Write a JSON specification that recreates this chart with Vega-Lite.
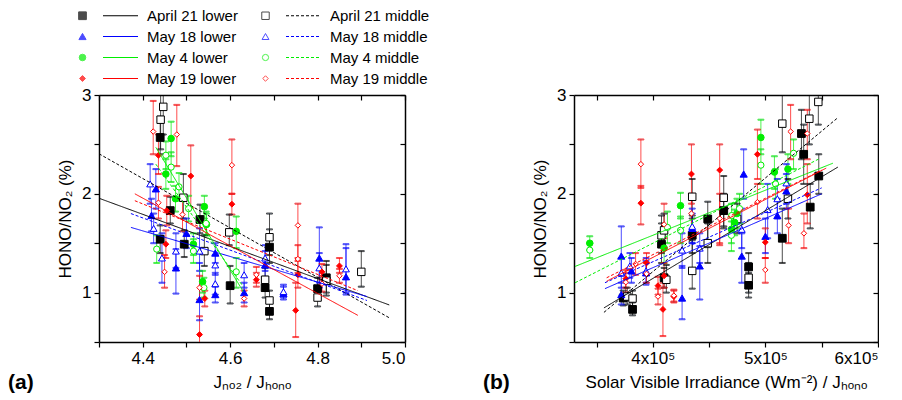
{
  "$schema": "https://vega.github.io/schema/vega-lite/v6.json",
  "padding": {"left": 8, "top": 8, "right": 0, "bottom": 0},
  "background": "white",
  "bounds": "flush",
  "spacing": 169,
  "resolve": {"scale": {"shape": "independent", "fill": "independent", "stroke": "independent", "size": "independent", "color": "independent", "strokeDash": "independent"}, "legend": {"shape": "independent", "fill": "independent", "stroke": "independent", "size": "independent", "color": "independent", "strokeDash": "independent"}},
  "datasets": {
    "pa": [
      {"series":"April 21 lower","x":4.440,"y":2.57,"lo":2.40,"hi":2.78},
      {"series":"April 21 lower","x":4.463,"y":1.83,"lo":1.70,"hi":1.97},
      {"series":"April 21 lower","x":4.440,"y":1.54,"lo":1.40,"hi":1.68},
      {"series":"April 21 lower","x":4.495,"y":1.49,"lo":1.36,"hi":1.63},
      {"series":"April 21 lower","x":4.531,"y":1.74,"lo":1.60,"hi":1.89},
      {"series":"April 21 lower","x":4.600,"y":1.07,"lo":0.89,"hi":1.27},
      {"series":"April 21 lower","x":4.690,"y":1.46,"lo":1.30,"hi":1.64},
      {"series":"April 21 lower","x":4.680,"y":1.05,"lo":0.95,"hi":1.16},
      {"series":"April 21 lower","x":4.690,"y":0.81,"lo":0.73,"hi":0.90},
      {"series":"April 21 lower","x":4.800,"y":1.04,"lo":0.93,"hi":1.15},
      {"series":"April 21 lower","x":4.820,"y":1.15,"lo":1.00,"hi":1.32},
      {"series":"April 21 middle","x":4.441,"y":2.75,"lo":2.45,"hi":3.05},
      {"series":"April 21 middle","x":4.447,"y":2.88,"lo":2.60,"hi":3.10},
      {"series":"April 21 middle","x":4.493,"y":1.96,"lo":1.75,"hi":2.20},
      {"series":"April 21 middle","x":4.541,"y":1.42,"lo":1.27,"hi":1.58},
      {"series":"April 21 middle","x":4.598,"y":1.61,"lo":1.48,"hi":1.79},
      {"series":"April 21 middle","x":4.690,"y":1.56,"lo":1.38,"hi":1.80},
      {"series":"April 21 middle","x":4.680,"y":1.13,"lo":1.02,"hi":1.25},
      {"series":"April 21 middle","x":4.690,"y":0.92,"lo":0.83,"hi":1.02},
      {"series":"April 21 middle","x":4.800,"y":0.95,"lo":0.86,"hi":1.05},
      {"series":"April 21 middle","x":4.820,"y":1.12,"lo":0.97,"hi":1.28},
      {"series":"April 21 middle","x":4.900,"y":1.21,"lo":1.06,"hi":1.42},
      {"series":"May 18 lower","x":4.420,"y":1.78,"lo":1.62,"hi":1.95},
      {"series":"May 18 lower","x":4.430,"y":2.05,"lo":1.85,"hi":2.25},
      {"series":"May 18 lower","x":4.476,"y":1.25,"lo":0.99,"hi":1.44},
      {"series":"May 18 lower","x":4.500,"y":1.60,"lo":1.45,"hi":1.75},
      {"series":"May 18 lower","x":4.530,"y":0.93,"lo":0.72,"hi":1.30},
      {"series":"May 18 lower","x":4.566,"y":0.98,"lo":0.90,"hi":1.06},
      {"series":"May 18 lower","x":4.566,"y":1.40,"lo":1.30,"hi":1.50},
      {"series":"May 18 lower","x":4.632,"y":1.00,"lo":0.90,"hi":1.10},
      {"series":"May 18 lower","x":4.680,"y":1.28,"lo":1.15,"hi":1.42},
      {"series":"May 18 lower","x":4.722,"y":0.99,"lo":0.93,"hi":1.06},
      {"series":"May 18 lower","x":4.804,"y":1.35,"lo":1.05,"hi":1.66},
      {"series":"May 18 lower","x":4.865,"y":1.16,"lo":0.98,"hi":1.49},
      {"series":"May 18 middle","x":4.417,"y":2.10,"lo":1.90,"hi":2.30},
      {"series":"May 18 middle","x":4.425,"y":1.65,"lo":1.50,"hi":1.80},
      {"series":"May 18 middle","x":4.444,"y":1.35,"lo":1.10,"hi":1.60},
      {"series":"May 18 middle","x":4.476,"y":1.42,"lo":1.25,"hi":1.60},
      {"series":"May 18 middle","x":4.530,"y":1.42,"lo":1.22,"hi":1.65},
      {"series":"May 18 middle","x":4.566,"y":1.09,"lo":0.98,"hi":1.20},
      {"series":"May 18 middle","x":4.566,"y":1.28,"lo":1.18,"hi":1.38},
      {"series":"May 18 middle","x":4.632,"y":1.18,"lo":1.05,"hi":1.30},
      {"series":"May 18 middle","x":4.680,"y":1.35,"lo":1.22,"hi":1.48},
      {"series":"May 18 middle","x":4.722,"y":1.01,"lo":0.95,"hi":1.08},
      {"series":"May 18 middle","x":4.804,"y":1.25,"lo":1.10,"hi":1.40},
      {"series":"May 18 middle","x":4.865,"y":1.24,"lo":1.00,"hi":1.45},
      {"series":"May 4 lower","x":4.465,"y":2.56,"lo":2.38,"hi":2.73},
      {"series":"May 4 lower","x":4.453,"y":2.20,"lo":2.05,"hi":2.35},
      {"series":"May 4 lower","x":4.475,"y":1.95,"lo":1.82,"hi":2.08},
      {"series":"May 4 lower","x":4.516,"y":1.49,"lo":1.38,"hi":1.60},
      {"series":"May 4 lower","x":4.541,"y":1.87,"lo":1.75,"hi":1.98},
      {"series":"May 4 lower","x":4.546,"y":1.69,"lo":1.58,"hi":1.80},
      {"series":"May 4 lower","x":4.537,"y":1.11,"lo":1.00,"hi":1.22},
      {"series":"May 4 lower","x":4.614,"y":1.62,"lo":1.45,"hi":1.77},
      {"series":"May 4 middle","x":4.453,"y":2.39,"lo":2.25,"hi":2.53},
      {"series":"May 4 middle","x":4.465,"y":2.27,"lo":2.12,"hi":2.42},
      {"series":"May 4 middle","x":4.483,"y":2.07,"lo":1.93,"hi":2.21},
      {"series":"May 4 middle","x":4.432,"y":1.44,"lo":1.30,"hi":1.58},
      {"series":"May 4 middle","x":4.505,"y":1.85,"lo":1.72,"hi":1.98},
      {"series":"May 4 middle","x":4.516,"y":1.42,"lo":1.30,"hi":1.54},
      {"series":"May 4 middle","x":4.545,"y":1.70,"lo":1.58,"hi":1.82},
      {"series":"May 4 middle","x":4.540,"y":1.05,"lo":0.95,"hi":1.15},
      {"series":"May 4 middle","x":4.614,"y":1.21,"lo":1.05,"hi":1.35},
      {"series":"May 19 lower","x":4.436,"y":2.39,"lo":2.20,"hi":2.60},
      {"series":"May 19 lower","x":4.455,"y":1.83,"lo":1.68,"hi":1.98},
      {"series":"May 19 lower","x":4.453,"y":1.49,"lo":1.35,"hi":1.63},
      {"series":"May 19 lower","x":4.510,"y":2.18,"lo":1.86,"hi":2.49},
      {"series":"May 19 lower","x":4.530,"y":0.575,"lo":0.48,"hi":0.76},
      {"series":"May 19 lower","x":4.542,"y":0.94,"lo":0.86,"hi":1.02},
      {"series":"May 19 lower","x":4.604,"y":1.895,"lo":1.79,"hi":2.00},
      {"series":"May 19 lower","x":4.660,"y":1.13,"lo":1.06,"hi":1.20},
      {"series":"May 19 lower","x":4.750,"y":0.82,"lo":0.55,"hi":1.10},
      {"series":"May 19 lower","x":4.755,"y":1.18,"lo":1.05,"hi":1.32},
      {"series":"May 19 lower","x":4.810,"y":1.21,"lo":1.13,"hi":1.29},
      {"series":"May 19 lower","x":4.850,"y":1.27,"lo":1.20,"hi":1.35},
      {"series":"May 19 middle","x":4.424,"y":2.63,"lo":2.40,"hi":2.94},
      {"series":"May 19 middle","x":4.478,"y":2.60,"lo":2.28,"hi":2.90},
      {"series":"May 19 middle","x":4.436,"y":1.91,"lo":1.75,"hi":2.07},
      {"series":"May 19 middle","x":4.450,"y":1.21,"lo":1.05,"hi":1.38},
      {"series":"May 19 middle","x":4.491,"y":1.79,"lo":1.62,"hi":1.96},
      {"series":"May 19 middle","x":4.530,"y":1.05,"lo":0.93,"hi":1.17},
      {"series":"May 19 middle","x":4.604,"y":2.29,"lo":2.00,"hi":2.55},
      {"series":"May 19 middle","x":4.632,"y":0.94,"lo":0.86,"hi":1.02},
      {"series":"May 19 middle","x":4.660,"y":1.18,"lo":1.10,"hi":1.26},
      {"series":"May 19 middle","x":4.755,"y":1.68,"lo":1.35,"hi":1.90},
      {"series":"May 19 middle","x":4.755,"y":1.34,"lo":1.20,"hi":1.48},
      {"series":"May 19 middle","x":4.810,"y":1.09,"lo":1.01,"hi":1.17},
      {"series":"May 19 middle","x":4.850,"y":1.17,"lo":1.10,"hi":1.24}
    ],
    "pb": [
      {"series":"April 21 lower","x":373700,"y":0.945,"lo":0.87,"hi":1.02},
      {"series":"April 21 lower","x":382000,"y":0.83,"lo":0.77,"hi":0.90},
      {"series":"April 21 lower","x":407700,"y":1.49,"lo":1.30,"hi":1.70},
      {"series":"April 21 lower","x":410000,"y":1.15,"lo":1.05,"hi":1.25},
      {"series":"April 21 lower","x":435000,"y":1.58,"lo":1.40,"hi":1.78},
      {"series":"April 21 lower","x":448800,"y":1.745,"lo":1.46,"hi":1.92},
      {"series":"April 21 lower","x":463000,"y":1.83,"lo":1.65,"hi":2.00},
      {"series":"April 21 lower","x":485100,"y":1.26,"lo":1.12,"hi":1.40},
      {"series":"April 21 lower","x":485100,"y":1.075,"lo":0.95,"hi":1.20},
      {"series":"April 21 lower","x":515000,"y":1.55,"lo":1.30,"hi":1.85},
      {"series":"April 21 lower","x":532000,"y":2.61,"lo":2.35,"hi":2.85},
      {"series":"April 21 lower","x":534000,"y":2.40,"lo":2.10,"hi":2.70},
      {"series":"April 21 lower","x":539800,"y":1.865,"lo":1.65,"hi":2.10},
      {"series":"April 21 lower","x":547400,"y":2.18,"lo":2.00,"hi":2.40},
      {"series":"April 21 middle","x":377300,"y":0.96,"lo":0.88,"hi":1.05},
      {"series":"April 21 middle","x":382000,"y":0.94,"lo":0.86,"hi":1.02},
      {"series":"April 21 middle","x":407700,"y":1.58,"lo":1.40,"hi":1.78},
      {"series":"April 21 middle","x":410000,"y":1.63,"lo":1.45,"hi":1.80},
      {"series":"April 21 middle","x":412000,"y":1.13,"lo":1.00,"hi":1.28},
      {"series":"April 21 middle","x":435000,"y":1.97,"lo":1.75,"hi":2.15},
      {"series":"April 21 middle","x":435000,"y":1.22,"lo":1.04,"hi":1.53},
      {"series":"April 21 middle","x":448800,"y":1.50,"lo":1.30,"hi":1.70},
      {"series":"April 21 middle","x":463000,"y":1.96,"lo":1.67,"hi":2.18},
      {"series":"April 21 middle","x":474900,"y":1.745,"lo":1.60,"hi":1.90},
      {"series":"April 21 middle","x":485100,"y":1.15,"lo":1.00,"hi":1.30},
      {"series":"April 21 middle","x":515000,"y":2.71,"lo":2.42,"hi":3.00},
      {"series":"April 21 middle","x":520000,"y":1.95,"lo":1.75,"hi":2.15},
      {"series":"April 21 middle","x":539000,"y":2.76,"lo":2.50,"hi":3.00},
      {"series":"April 21 middle","x":547000,"y":2.93,"lo":2.70,"hi":3.00},
      {"series":"May 18 lower","x":372000,"y":0.98,"lo":0.88,"hi":1.10},
      {"series":"May 18 lower","x":372000,"y":1.37,"lo":1.17,"hi":1.67},
      {"series":"May 18 lower","x":381000,"y":1.22,"lo":1.10,"hi":1.35},
      {"series":"May 18 lower","x":394000,"y":1.20,"lo":1.08,"hi":1.32},
      {"series":"May 18 lower","x":426000,"y":0.945,"lo":0.73,"hi":1.27},
      {"series":"May 18 lower","x":435000,"y":1.65,"lo":1.50,"hi":1.80},
      {"series":"May 18 lower","x":441700,"y":1.27,"lo":0.93,"hi":1.47},
      {"series":"May 18 lower","x":479000,"y":1.37,"lo":1.10,"hi":1.60},
      {"series":"May 18 lower","x":480700,"y":2.20,"lo":1.95,"hi":2.45},
      {"series":"May 18 lower","x":500000,"y":1.57,"lo":1.40,"hi":1.75},
      {"series":"May 18 lower","x":510600,"y":1.78,"lo":1.60,"hi":1.95},
      {"series":"May 18 lower","x":518600,"y":2.03,"lo":1.85,"hi":2.20},
      {"series":"May 18 middle","x":372000,"y":1.20,"lo":1.05,"hi":1.35},
      {"series":"May 18 middle","x":379600,"y":1.27,"lo":1.15,"hi":1.40},
      {"series":"May 18 middle","x":394000,"y":1.22,"lo":1.10,"hi":1.35},
      {"series":"May 18 middle","x":426000,"y":1.43,"lo":1.25,"hi":1.60},
      {"series":"May 18 middle","x":435000,"y":1.67,"lo":1.50,"hi":1.85},
      {"series":"May 18 middle","x":441700,"y":1.45,"lo":1.30,"hi":1.60},
      {"series":"May 18 middle","x":479000,"y":1.64,"lo":1.45,"hi":1.85},
      {"series":"May 18 middle","x":502000,"y":1.84,"lo":1.55,"hi":2.10},
      {"series":"May 18 middle","x":510600,"y":1.95,"lo":1.75,"hi":2.15},
      {"series":"May 18 middle","x":518600,"y":2.11,"lo":1.90,"hi":2.30},
      {"series":"May 4 lower","x":344000,"y":1.50,"lo":1.43,"hi":1.57},
      {"series":"May 4 lower","x":410000,"y":1.45,"lo":1.30,"hi":1.60},
      {"series":"May 4 lower","x":424600,"y":1.88,"lo":1.75,"hi":2.01},
      {"series":"May 4 lower","x":469800,"y":1.64,"lo":1.50,"hi":1.78},
      {"series":"May 4 lower","x":472700,"y":1.71,"lo":1.58,"hi":1.84},
      {"series":"May 4 lower","x":474700,"y":1.80,"lo":1.65,"hi":1.95},
      {"series":"May 4 lower","x":496000,"y":2.57,"lo":2.40,"hi":2.75},
      {"series":"May 4 lower","x":508000,"y":2.22,"lo":2.05,"hi":2.38},
      {"series":"May 4 lower","x":520000,"y":2.25,"lo":2.10,"hi":2.40},
      {"series":"May 4 middle","x":344000,"y":1.43,"lo":1.35,"hi":1.50},
      {"series":"May 4 middle","x":413000,"y":1.66,"lo":1.50,"hi":1.82},
      {"series":"May 4 middle","x":424600,"y":1.63,"lo":1.50,"hi":1.77},
      {"series":"May 4 middle","x":469800,"y":1.58,"lo":1.42,"hi":1.72},
      {"series":"May 4 middle","x":470000,"y":1.78,"lo":1.65,"hi":1.90},
      {"series":"May 4 middle","x":477000,"y":1.85,"lo":1.70,"hi":2.00},
      {"series":"May 4 middle","x":496000,"y":2.29,"lo":2.10,"hi":2.45},
      {"series":"May 4 middle","x":509000,"y":2.10,"lo":1.95,"hi":2.25},
      {"series":"May 4 middle","x":525000,"y":2.41,"lo":2.25,"hi":2.55},
      {"series":"May 19 lower","x":376000,"y":1.14,"lo":1.05,"hi":1.23},
      {"series":"May 19 lower","x":389400,"y":1.905,"lo":1.69,"hi":2.08},
      {"series":"May 19 lower","x":394400,"y":1.30,"lo":1.18,"hi":1.40},
      {"series":"May 19 lower","x":404600,"y":1.07,"lo":0.98,"hi":1.16},
      {"series":"May 19 lower","x":409000,"y":0.83,"lo":0.56,"hi":1.10},
      {"series":"May 19 lower","x":410000,"y":1.17,"lo":1.05,"hi":1.30},
      {"series":"May 19 lower","x":418700,"y":0.96,"lo":0.90,"hi":1.02},
      {"series":"May 19 lower","x":434300,"y":2.20,"lo":1.90,"hi":2.50},
      {"series":"May 19 lower","x":459400,"y":2.24,"lo":1.48,"hi":2.50},
      {"series":"May 19 lower","x":492900,"y":2.40,"lo":2.15,"hi":2.65},
      {"series":"May 19 lower","x":499900,"y":1.51,"lo":1.35,"hi":1.65},
      {"series":"May 19 lower","x":537200,"y":1.99,"lo":1.70,"hi":2.30},
      {"series":"May 19 middle","x":376000,"y":1.105,"lo":1.00,"hi":1.20},
      {"series":"May 19 middle","x":384700,"y":1.29,"lo":1.18,"hi":1.40},
      {"series":"May 19 middle","x":389400,"y":2.30,"lo":2.06,"hi":2.55},
      {"series":"May 19 middle","x":394400,"y":1.19,"lo":1.10,"hi":1.30},
      {"series":"May 19 middle","x":404600,"y":0.96,"lo":0.88,"hi":1.04},
      {"series":"May 19 middle","x":410000,"y":1.69,"lo":1.55,"hi":1.90},
      {"series":"May 19 middle","x":418700,"y":0.97,"lo":0.91,"hi":1.03},
      {"series":"May 19 middle","x":434300,"y":1.80,"lo":1.60,"hi":2.00},
      {"series":"May 19 middle","x":459400,"y":1.75,"lo":1.50,"hi":2.00},
      {"series":"May 19 middle","x":492900,"y":1.915,"lo":1.75,"hi":2.10},
      {"series":"May 19 middle","x":499900,"y":1.23,"lo":1.10,"hi":1.35},
      {"series":"May 19 middle","x":520600,"y":1.68,"lo":1.50,"hi":1.85},
      {"series":"May 19 middle","x":522400,"y":2.63,"lo":2.35,"hi":2.90},
      {"series":"May 19 middle","x":534200,"y":1.60,"lo":1.45,"hi":1.80},
      {"series":"May 19 middle","x":537200,"y":2.61,"lo":2.35,"hi":2.85}
    ],
    "fa": [
      {"fit":"AL","x":4.300,"y":1.955},{"fit":"AL","x":4.964,"y":0.875},
      {"fit":"AM","x":4.300,"y":2.405},{"fit":"AM","x":4.964,"y":0.745},
      {"fit":"BL","x":4.373,"y":1.66},{"fit":"BL","x":4.913,"y":0.96},
      {"fit":"BM","x":4.373,"y":1.80},{"fit":"BM","x":4.913,"y":0.92},
      {"fit":"GL","x":4.430,"y":2.47},{"fit":"GL","x":4.630,"y":1.01},
      {"fit":"GM","x":4.430,"y":2.30},{"fit":"GM","x":4.630,"y":1.06},
      {"fit":"RL","x":4.382,"y":2.00},{"fit":"RL","x":4.892,"y":0.77},
      {"fit":"RM","x":4.382,"y":1.93},{"fit":"RM","x":4.892,"y":1.02}
    ],
    "fb": [
      {"fit":"AL","x":356600,"y":0.845},{"fit":"AL","x":564300,"y":2.27},
      {"fit":"AM","x":356600,"y":0.80},{"fit":"AM","x":564300,"y":2.77},
      {"fit":"BL","x":357500,"y":1.04},{"fit":"BL","x":550000,"y":2.00},
      {"fit":"BM","x":357500,"y":1.10},{"fit":"BM","x":550000,"y":2.06},
      {"fit":"GL","x":331000,"y":1.265},{"fit":"GL","x":560000,"y":2.31},
      {"fit":"GM","x":331000,"y":1.10},{"fit":"GM","x":547000,"y":2.35},
      {"fit":"RL","x":359000,"y":1.115},{"fit":"RL","x":554000,"y":2.26},
      {"fit":"RM","x":359000,"y":1.15},{"fit":"RM","x":550000,"y":2.24}
    ]
  },
  "hconcat": [
    {
      "width": 306,
      "height": 247,
      "title": {"text": "(a)", "orient": "bottom", "anchor": "start", "frame": "group", "dx": -91, "offset": -18, "fontSize": 21, "fontWeight": "bold", "font": "Liberation Sans", "color": "#000"},
      "resolve": {"axis": {"x": "independent", "y": "independent"}},
      "layer": [
        {
          "data": {"name": "pa"},
          "mark": {"type": "rule", "strokeWidth": 1, "opacity": 0.7, "clip": true},
          "encoding": {
            "x": {"field": "x", "type": "quantitative", "scale": {"domain": [4.3, 5.0], "nice": false, "zero": false},
              "axis": {"orient": "bottom", "values": [4.3, 4.4, 4.5, 4.6, 4.7, 4.8, 4.9, 5.0], "labelExpr": "round(datum.value*10)%2==0 ? format(datum.value,'.1f') : ''", "title": "Jₙₒ₂ / Jₕₒₙₒ", "tickSize": 5, "labelPadding": 3, "titlePadding": 8}},
            "y": {"field": "lo", "type": "quantitative", "scale": {"domain": [0.5, 3], "nice": false, "zero": false},
              "axis": {"orient": "left", "values": [0.5, 1, 1.5, 2, 2.5, 3], "labelExpr": "datum.value%1==0 ? format(datum.value,'.0f') : ''", "title": "HONO/NO₂ (%)", "tickSize": 5, "labelPadding": 3, "titlePadding": 7}},
            "y2": {"field": "hi"},
            "stroke": {"field": "series", "type": "nominal",
              "scale": {"domain": ["April 21 lower","April 21 middle","May 18 lower","May 18 middle","May 4 lower","May 4 middle","May 19 lower","May 19 middle"], "range": ["#000000","#000000","#0000ff","#0000ff","#00ee00","#00ee00","#ff0000","#ff0000"]}}
          }
        },
        {
          "data": {"name": "pa"},
          "mark": {"type": "tick", "orient": "horizontal", "size": 6, "thickness": 1, "opacity": 0.7, "clip": true},
          "encoding": {
            "x": {"field": "x", "type": "quantitative", "axis": null},
            "y": {"field": "lo", "type": "quantitative", "axis": null},
            "stroke": {"field": "series", "type": "nominal"}
          }
        },
        {
          "data": {"name": "pa"},
          "mark": {"type": "tick", "orient": "horizontal", "size": 6, "thickness": 1, "opacity": 0.7, "clip": true},
          "encoding": {
            "x": {"field": "x", "type": "quantitative", "axis": null},
            "y": {"field": "hi", "type": "quantitative", "axis": null},
            "stroke": {"field": "series", "type": "nominal"}
          }
        },
        {
          "data": {"name": "pa"},
          "mark": {"type": "point", "strokeWidth": 1, "opacity": 1, "fillOpacity": 1, "clip": true},
          "encoding": {
            "x": {"field": "x", "type": "quantitative", "axis": null},
            "y": {"field": "y", "type": "quantitative", "axis": null},
            "shape": {"field": "series", "type": "nominal",
              "scale": {"domain": ["April 21 lower","April 21 middle","May 18 lower","May 18 middle","May 4 lower","May 4 middle","May 19 lower","May 19 middle"], "range": ["square","square","triangle-up","triangle-up","circle","circle","diamond","diamond"]},
              "legend": {"orient": "none", "legendX": -24, "legendY": -87, "direction": "horizontal", "columns": 2, "columnPadding": 168, "rowPadding": 5, "title": null, "labelExpr": "''", "labelOffset": 0, "labelFontSize": 15, "padding": 0, "symbolStrokeWidth": 1, "symbolOpacity": 1}},
            "fill": {"field": "series", "type": "nominal",
              "scale": {"domain": ["April 21 lower","April 21 middle","May 18 lower","May 18 middle","May 4 lower","May 4 middle","May 19 lower","May 19 middle"], "range": ["#000000","#ffffff","#0000ff","#ffffff","#00ee00","#ffffff","#ff0000","#ffffff"]}},
            "stroke": {"field": "series", "type": "nominal"},
            "size": {"field": "series", "type": "nominal",
              "scale": {"domain": ["April 21 lower","April 21 middle","May 18 lower","May 18 middle","May 4 lower","May 4 middle","May 19 lower","May 19 middle"], "range": [60, 30, 65, 32, 55, 30, 60, 32]}}
          }
        },
        {
          "data": {"name": "fa"},
          "mark": {"type": "line", "strokeWidth": 1, "clip": true},
          "encoding": {
            "x": {"field": "x", "type": "quantitative",
              "axis": {"orient": "top", "values": [4.3, 4.4, 4.5, 4.6, 4.7, 4.8, 4.9, 5.0], "labels": false, "tickSize": -5, "title": null}},
            "y": {"field": "y", "type": "quantitative",
              "axis": {"orient": "right", "values": [0.5, 1, 1.5, 2, 2.5, 3], "labels": false, "tickSize": -5, "title": null}},
            "color": {"field": "fit", "type": "nominal",
              "scale": {"range": ["#000000","#000000","#0000ff","#0000ff","#00ee00","#00ee00","#ff0000","#ff0000"]},
              "legend": {"orient": "none", "legendX": 14, "legendY": -87, "direction": "horizontal", "columns": 2, "columnPadding": 45, "rowPadding": 5, "title": null, "symbolType": "M-3.5,0H3.5", "symbolSize": 100, "symbolStrokeWidth": 1.2, "labelOffset": 19, "labelFontSize": 15, "labelColor": "#000", "padding": 0,
                "labelExpr": "datum.label=='AL'?'April 21 lower':datum.label=='AM'?'April 21 middle':datum.label=='BL'?'May 18 lower':datum.label=='BM'?'May 18 middle':datum.label=='GL'?'May 4 lower':datum.label=='GM'?'May 4 middle':datum.label=='RL'?'May 19 lower':'May 19 middle'"}},
            "strokeDash": {"field": "fit", "type": "nominal",
              "scale": {"range": [[1,0],[3,2],[1,0],[3,2],[1,0],[3,2],[1,0],[3,2]]}}
          }
        }
      ]
    },
    {
      "width": 304,
      "height": 247,
      "title": {"text": "(b)", "orient": "bottom", "anchor": "start", "frame": "group", "dx": -91, "offset": -18, "fontSize": 21, "fontWeight": "bold", "font": "Liberation Sans", "color": "#000"},
      "resolve": {"axis": {"x": "independent", "y": "independent"}},
      "layer": [
        {
          "data": {"name": "pb"},
          "mark": {"type": "rule", "strokeWidth": 1, "opacity": 0.7, "clip": true},
          "encoding": {
            "x": {"field": "x", "type": "quantitative", "scale": {"domain": [330000, 600000], "nice": false, "zero": false},
              "axis": {"orient": "bottom", "values": [350000, 400000, 450000, 500000, 550000, 600000], "labelExpr": "datum.value%100000==0 ? (datum.value/100000) + 'x10⁵' : ''", "title": "Solar Visible Irradiance (Wm⁻²) / Jₕₒₙₒ", "tickSize": 5, "labelPadding": 3, "titlePadding": 8}},
            "y": {"field": "lo", "type": "quantitative", "scale": {"domain": [0.5, 3], "nice": false, "zero": false},
              "axis": {"orient": "left", "values": [0.5, 1, 1.5, 2, 2.5, 3], "labelExpr": "datum.value%1==0 ? format(datum.value,'.0f') : ''", "title": "HONO/NO₂ (%)", "tickSize": 5, "labelPadding": 3, "titlePadding": 7}},
            "y2": {"field": "hi"},
            "stroke": {"field": "series", "type": "nominal", "legend": null,
              "scale": {"domain": ["April 21 lower","April 21 middle","May 18 lower","May 18 middle","May 4 lower","May 4 middle","May 19 lower","May 19 middle"], "range": ["#000000","#000000","#0000ff","#0000ff","#00ee00","#00ee00","#ff0000","#ff0000"]}}
          }
        },
        {
          "data": {"name": "pb"},
          "mark": {"type": "tick", "orient": "horizontal", "size": 6, "thickness": 1, "opacity": 0.7, "clip": true},
          "encoding": {
            "x": {"field": "x", "type": "quantitative", "axis": null},
            "y": {"field": "lo", "type": "quantitative", "axis": null},
            "stroke": {"field": "series", "type": "nominal", "legend": null}
          }
        },
        {
          "data": {"name": "pb"},
          "mark": {"type": "tick", "orient": "horizontal", "size": 6, "thickness": 1, "opacity": 0.7, "clip": true},
          "encoding": {
            "x": {"field": "x", "type": "quantitative", "axis": null},
            "y": {"field": "hi", "type": "quantitative", "axis": null},
            "stroke": {"field": "series", "type": "nominal", "legend": null}
          }
        },
        {
          "data": {"name": "pb"},
          "mark": {"type": "point", "strokeWidth": 1, "opacity": 1, "fillOpacity": 1, "clip": true},
          "encoding": {
            "x": {"field": "x", "type": "quantitative", "axis": null},
            "y": {"field": "y", "type": "quantitative", "axis": null},
            "shape": {"field": "series", "type": "nominal", "legend": null,
              "scale": {"domain": ["April 21 lower","April 21 middle","May 18 lower","May 18 middle","May 4 lower","May 4 middle","May 19 lower","May 19 middle"], "range": ["square","square","triangle-up","triangle-up","circle","circle","diamond","diamond"]}},
            "fill": {"field": "series", "type": "nominal", "legend": null,
              "scale": {"domain": ["April 21 lower","April 21 middle","May 18 lower","May 18 middle","May 4 lower","May 4 middle","May 19 lower","May 19 middle"], "range": ["#000000","#ffffff","#0000ff","#ffffff","#00ee00","#ffffff","#ff0000","#ffffff"]}},
            "stroke": {"field": "series", "type": "nominal", "legend": null},
            "size": {"field": "series", "type": "nominal", "legend": null,
              "scale": {"domain": ["April 21 lower","April 21 middle","May 18 lower","May 18 middle","May 4 lower","May 4 middle","May 19 lower","May 19 middle"], "range": [60, 30, 65, 32, 55, 30, 60, 32]}}
          }
        },
        {
          "data": {"name": "fb"},
          "mark": {"type": "line", "strokeWidth": 1, "clip": true},
          "encoding": {
            "x": {"field": "x", "type": "quantitative",
              "axis": {"orient": "top", "values": [350000, 400000, 450000, 500000, 550000, 600000], "labels": false, "tickSize": -5, "title": null}},
            "y": {"field": "y", "type": "quantitative",
              "axis": {"orient": "right", "values": [0.5, 1, 1.5, 2, 2.5, 3], "labels": false, "tickSize": -5, "title": null}},
            "color": {"field": "fit", "type": "nominal", "legend": null,
              "scale": {"range": ["#000000","#000000","#0000ff","#0000ff","#00ee00","#00ee00","#ff0000","#ff0000"]}},
            "strokeDash": {"field": "fit", "type": "nominal", "legend": null,
              "scale": {"range": [[1,0],[3,2],[1,0],[3,2],[1,0],[3,2],[1,0],[3,2]]}}
          }
        }
      ]
    }
  ],
  "config": {
    "view": {"stroke": null},
    "font": "Liberation Sans",
    "axis": {"domainColor": "#000000", "domainWidth": 1.5, "tickColor": "#000000", "tickWidth": 1.2, "labelColor": "#000000", "titleColor": "#000000", "grid": false, "labelFontSize": 17, "titleFontSize": 17, "titleFontWeight": "normal", "labelFont": "Liberation Sans", "titleFont": "Liberation Sans"},
    "legend": {"labelFont": "Liberation Sans", "labelColor": "#000000"}
  }
}
